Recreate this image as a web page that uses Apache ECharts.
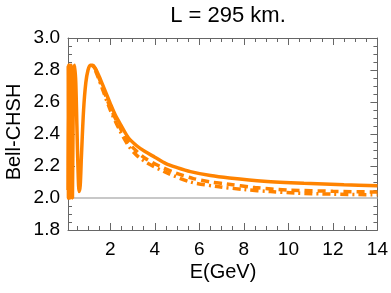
<!DOCTYPE html>
<html><head><meta charset="utf-8">
<script src="https://cdn.jsdelivr.net/npm/echarts@6/dist/echarts.min.js"></script>
<style>html,body{margin:0;padding:0;background:#fff}#c{width:391px;height:293px}</style>
</head><body><div id="c"></div>
<script>
const solidData = [[0.1,2.05],[0.109,2.83],[0.12,2.0],[0.133,2.83],[0.15,2.0],[0.171,2.83],[0.2,2.0],[0.22,2.6],[0.24,2.83],[0.265,2.5],[0.3,2.0],[0.33,2.5],[0.37,2.8],[0.4,2.83],[0.45,2.72],[0.5,2.45],[0.55,2.18],[0.6,2.04],[0.65,2.08],[0.7,2.25],[0.8,2.55],[0.9,2.72],[1.0,2.80],[1.1,2.83],[1.2,2.83],[1.33,2.81],[1.5,2.76],[1.75,2.675],[2.0,2.59],[2.22,2.52],[2.5,2.45],[2.82,2.375],[3.2,2.325],[3.56,2.29],[4.0,2.255],[4.5,2.215],[5.0,2.19],[5.6,2.165],[6.5,2.14],[7.35,2.125],[8.9,2.105],[10.7,2.092],[12.5,2.083],[14,2.077]];
const dashedData = [[1.2,2.83],[1.35,2.80],[1.6,2.71],[2.0,2.565],[2.4,2.45],[2.8,2.35],[3.2,2.29],[3.6,2.245],[4.2,2.2],[4.9,2.158],[5.7,2.123],[6.5,2.1],[7.2,2.088],[8.5,2.065],[10,2.05],[12,2.042],[14,2.037]];
const dotDashedData = [[1.2,2.83],[1.35,2.79],[1.6,2.70],[2.0,2.55],[2.4,2.43],[2.8,2.33],[3.2,2.265],[3.7,2.215],[4.5,2.16],[5.6,2.1],[6.8,2.072],[8,2.053],[9.2,2.04],[10.3,2.031],[12,2.024],[14,2.02]];
const refLevel = 2.0;
const xMajor = [2,4,6,8,10,12,14];
const xMinor = [0.5,1,1.5,2.5,3,3.5,4.5,5,5.5,6.5,7,7.5,8.5,9,9.5,10.5,11,11.5,12.5,13,13.5];
const yMajor = [1.8,2.0,2.2,2.4,2.6,2.8,3.0];
const yMinor = [1.85,1.9,1.95,2.05,2.1,2.15,2.25,2.3,2.35,2.45,2.5,2.55,2.65,2.7,2.75,2.85,2.9,2.95];
const xMin = 0.1, xMax = 14, yMin = 1.8, yMax = 3.0;

const frameColor = '#666';
const orange = '#ff8300';
const font = 'Liberation Sans, Arial, sans-serif';

function xa(pos, vals, len, labels, line){
  return {type:'value', min:xMin, max:xMax, position:pos, gridIndex:0,
    axisLine:{show:line, lineStyle:{color:frameColor,width:1}},
    axisTick:{show:true, inside:true, length:len, customValues:vals, lineStyle:{color:frameColor}},
    axisLabel:{show:labels, customValues:vals, color:'#000', fontSize:19, fontFamily:font, margin:10},
    splitLine:{show:false}};
}
function ya(pos, vals, len, labels, line){
  return {type:'value', min:yMin, max:yMax, position:pos, gridIndex:0,
    axisLine:{show:line, lineStyle:{color:frameColor,width:1}},
    axisTick:{show:true, inside:true, length:len, customValues:vals, lineStyle:{color:frameColor}},
    axisLabel:{show:labels, customValues:vals, color:'#000', fontSize:19, fontFamily:font, margin:8,
      formatter:v=>v.toFixed(1)},
    splitLine:{show:false}};
}
const chart = echarts.init(document.getElementById('c'), null, {renderer:'canvas'});
chart.setOption({
  animation:false,
  title:{text:'L = 295 km.', left:223, top:0, textAlign:'center',
    textStyle:{fontSize:22, fontWeight:'normal', color:'#000', fontFamily:font}},
  grid:{left:68, right:12, top:38, bottom:63},
  graphic:[
    {type:'text', x:223, y:272, style:{text:'E(GeV)', fill:'#000', font:'20px '+font, align:'center', verticalAlign:'middle'}},
    {type:'text', rotation:Math.PI/2, x:14, y:132, style:{text:'Bell-CHSH', fill:'#000', font:'20px '+font, align:'center', verticalAlign:'middle'}}
  ],
  xAxis:[xa('bottom',xMajor,7,true,true), xa('bottom',xMinor,4,false,false), xa('top',xMajor,7,false,true), xa('top',xMinor,4,false,false)],
  yAxis:[ya('left',yMajor,7,true,true), ya('left',yMinor,4,false,false), ya('right',yMajor,7,false,true), ya('right',yMinor,4,false,false)],
  series:[
    {type:'line', data:[[xMin,refLevel],[xMax,refLevel]], symbol:'none', lineStyle:{color:'#c8c8c8', width:2}, silent:true},
    {type:'line', data:dashedData, symbol:'none', smooth:0.3, lineStyle:{color:orange, width:3.5, type:[8,5]}},
    {type:'line', data:dotDashedData, symbol:'none', smooth:0.3, lineStyle:{color:orange, width:3.5, type:[2,4,8,4]}},
    {type:'line', data:solidData, symbol:'none', smooth:0.3, lineStyle:{color:orange, width:3.5}}
  ]
});
</script></body></html>
